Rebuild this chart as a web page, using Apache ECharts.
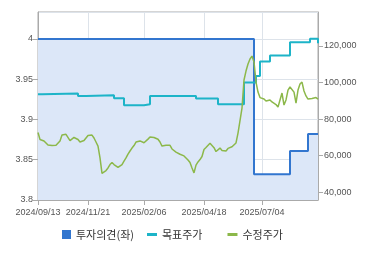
<!DOCTYPE html>
<html>
<head>
<meta charset="utf-8">
<script src="https://cdn.jsdelivr.net/npm/echarts@6/dist/echarts.min.js"></script>
<style>
html,body{margin:0;padding:0;background:#fff;}
#chart{width:370px;height:255px;}
</style>
</head>
<body>
<div id="chart"></div>
<script>
// Categories (sampled trading days)
const dates = [
'2024/09/13','2024/09/19','2024/09/23','2024/09/25','2024/09/27','2024/09/30','2024/10/04','2024/10/08','2024/10/11','2024/10/15',
'2024/10/17','2024/10/21','2024/10/23','2024/10/25','2024/10/29','2024/10/31','2024/11/04','2024/11/06','2024/11/08','2024/11/11',
'2024/11/12','2024/11/14','2024/11/15','2024/11/18','2024/11/20','2024/11/21','2024/11/25','2024/11/27','2024/11/29','2024/12/03',
'2024/12/05','2024/12/09','2024/12/11','2024/12/13','2024/12/17','2024/12/19','2024/12/23','2024/12/26','2024/12/30','2025/01/03',
'2025/01/07','2025/01/09','2025/01/13','2025/01/15','2025/01/17','2025/01/20','2025/01/21','2025/01/22','2025/01/23','2025/01/24',
'2025/01/31','2025/02/03','2025/02/04','2025/02/06','2025/02/10','2025/02/12','2025/02/14','2025/02/17','2025/02/19','2025/02/21',
'2025/02/24','2025/02/26','2025/02/28','2025/03/04','2025/03/06','2025/03/10','2025/03/12','2025/03/14','2025/03/17','2025/03/19',
'2025/03/21','2025/03/24','2025/03/26','2025/03/28','2025/03/31','2025/04/02','2025/04/04','2025/04/07','2025/04/09','2025/04/11',
'2025/04/14','2025/04/15','2025/04/16','2025/04/18','2025/04/22','2025/04/24','2025/04/28','2025/04/30','2025/05/07','2025/05/09',
'2025/05/13','2025/05/15','2025/05/19','2025/05/21','2025/05/23','2025/05/27','2025/05/29','2025/06/02','2025/06/05','2025/06/10',
'2025/06/12','2025/06/16','2025/06/18','2025/06/20','2025/06/23','2025/06/25','2025/06/26','2025/06/27','2025/06/30','2025/07/01',
'2025/07/02','2025/07/03','2025/07/04','2025/07/07','2025/07/09','2025/07/11','2025/07/15','2025/07/17','2025/07/21','2025/07/23',
'2025/07/25','2025/07/29','2025/07/31','2025/08/04','2025/08/06','2025/08/08','2025/08/12','2025/08/14','2025/08/19','2025/08/21',
'2025/08/25','2025/08/27','2025/08/29','2025/09/02','2025/09/04','2025/09/05','2025/09/08','2025/09/09','2025/09/10','2025/09/11',
'2025/09/12'
];

// X tick labels
const tickLabels = ['2024/09/13','2024/11/21','2025/02/06','2025/04/18','2025/07/04'];

// Right axis tick labels
const rightTicks = [40000, 60000, 80000, 100000, 120000];

// 수정주가 (adjusted price), one per category
const priceValues = [
72700,68900,68600,68100,67200,65900,65900,65600,65200,65700,
66700,68100,71300,70800,71700,71100,68300,68600,70000,70500,
68900,67500,67200,68300,69700,71100,71900,71300,69700,67500,
65300,58800,50400,51100,51900,53300,55200,56300,55200,54400,
53600,53800,55200,57100,58800,60900,62600,64200,65600,67500,
67600,68100,68300,67100,67800,69100,70200,71100,70000,70500,
69000,67500,65300,64800,65700,65300,65700,63700,62900,62000,
61500,60800,60400,59900,58800,57700,56300,53300,50600,54900,
56600,57900,59600,63400,64500,65300,66800,67800,64400,62300,
62600,64200,62900,63400,62600,64000,63400,64900,64000,67000,
72400,71900,86100,101400,106300,110200,112900,114500,111300,100300,
94800,91800,91000,91000,89900,90200,90500,89400,88800,88000,
86600,90500,94300,87700,90500,95900,97600,97600,94800,88800,
95900,99200,100300,95400,92700,91000,91800,91300,91000,91800,
91000
];

// 목표주가 (target price) change points
const targetDates = ['2024/09/13','2024/09/23','2024/11/12','2024/11/20','2024/12/30','2025/01/15','2025/02/06','2025/02/14','2025/04/11','2025/05/13','2025/06/20','2025/07/01','2025/07/03','2025/07/15','2025/08/12','2025/09/08','2025/09/12'];
const targetValues = [93600,94100,92650,93050,91400,87600,88100,92650,91300,88200,100000,103600,111600,114800,122000,124000,121500];

// 투자의견 (investment opinion, left axis) change points
const opinionDates = ['2024/09/13','2025/06/30','2025/08/12','2025/09/05','2025/09/12'];
const opinionValues = [4, 3.832, 3.861, 3.882, 3.882];

const pair = (ds, vs) => ds.map((d, i) => [d, vs[i]]);
const showTick = (idx, val) => tickLabels.indexOf(val) >= 0;

const C_BLUE = '#3276cf', C_TEAL = '#1db4c8', C_GREEN = '#8cb84a';
const axisGray = '#aaaaaa';

const chart = echarts.init(document.getElementById('chart'), null, {renderer: 'canvas'});
chart.setOption({
  animation: false,
  backgroundColor: '#ffffff',
  grid: {left: 38, right: 52, top: 12, bottom: 55, show: true, borderColor: axisGray, borderWidth: 1, backgroundColor: 'transparent'},
  legend: [
    {
      data: ['투자의견(좌)'], left: 57, top: 224, icon: 'rect', itemWidth: 9, itemHeight: 9,
      textStyle: {fontFamily: 'Noto Sans CJK KR', fontSize: 11, color: '#333'}, itemGap: 10
    },
    {
      data: ['목표주가', '수정주가'], left: 142, top: 224, icon: 'rect', itemWidth: 10, itemHeight: 3,
      textStyle: {fontFamily: 'Noto Sans CJK KR', fontSize: 11, color: '#333'}, itemGap: 25
    }
  ],
  xAxis: {
    type: 'category',
    data: dates,
    boundaryGap: false,
    axisLine: {lineStyle: {color: axisGray}},
    axisTick: {show: true, interval: showTick, length: 5, lineStyle: {color: axisGray}},
    axisLabel: {interval: showTick, fontSize: 9, fontFamily: 'Liberation Sans', color: '#555', margin: 8},
    splitLine: {show: true, interval: showTick, lineStyle: {color: '#dde3ea', width: 1}}
  },
  yAxis: [
    {
      type: 'value', position: 'left', min: 3.8, max: 4.0335, interval: 0.05,
      axisLine: {show: true, lineStyle: {color: axisGray}},
      axisTick: {show: true, length: 5, lineStyle: {color: axisGray}},
      axisLabel: {fontSize: 9, fontFamily: 'Liberation Sans', color: '#555', margin: 5, showMaxLabel: false},
      splitLine: {show: true, lineStyle: {color: '#dde3ea'}}
    },
    {
      type: 'value', position: 'right', min: 35800, max: 138600,
      axisLine: {show: true, lineStyle: {color: axisGray}},
      axisTick: {show: true, length: 5, customValues: rightTicks, lineStyle: {color: axisGray}},
      axisLabel: {fontSize: 9, fontFamily: 'Liberation Sans', color: '#555', margin: 6, customValues: rightTicks,
        formatter: v => v.toLocaleString('en-US')},
      splitLine: {show: false}
    }
  ],
  series: [
    {
      name: '투자의견(좌)', type: 'line', yAxisIndex: 0, step: 'end', showSymbol: false, symbol: 'none',
      data: pair(opinionDates, opinionValues),
      itemStyle: {color: C_BLUE},
      lineStyle: {color: C_BLUE, width: 2},
      areaStyle: {color: '#dce7f8', opacity: 1, origin: 'start'},
      z: 1
    },
    {
      name: '목표주가', type: 'line', yAxisIndex: 1, step: 'end', showSymbol: false, symbol: 'none',
      data: pair(targetDates, targetValues),
      itemStyle: {color: C_TEAL},
      lineStyle: {color: C_TEAL, width: 2},
      z: 2
    },
    {
      name: '수정주가', type: 'line', yAxisIndex: 1, showSymbol: false, symbol: 'none',
      data: priceValues,
      itemStyle: {color: C_GREEN},
      lineStyle: {color: C_GREEN, width: 1.5},
      z: 3
    }
  ]
});
</script>
</body>
</html>
